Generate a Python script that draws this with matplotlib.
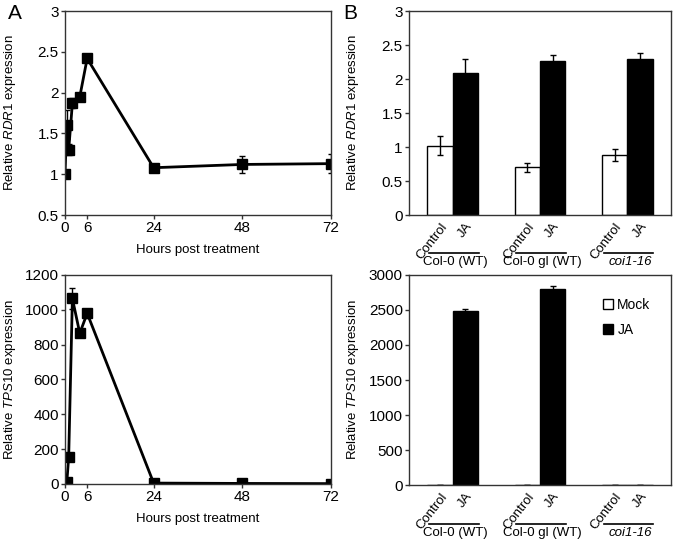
import numpy as np
import matplotlib
matplotlib.use("Agg")
from matplotlib import pyplot as plt
from matplotlib.patches import Patch

plt.rcParams['font.family'] = ['Liberation Sans', 'DejaVu Sans']
plt.rcParams['mathtext.fontset'] = 'custom'
plt.rcParams['mathtext.rm'] = 'Liberation Sans'
plt.rcParams['mathtext.it'] = 'Liberation Sans:italic'
plt.rcParams['font.size'] = 10

# time course data (panel A)
hours = [0, 0.5, 1, 2, 4, 6, 24, 48, 72]
rdr1_time = [1.0, 1.61, 1.30, 1.87, 1.95, 2.42, 1.08, 1.12, 1.13]
rdr1_time_err = [0.0, 0.18, 0.07, 0.06, 0.02, 0.02, 0.03, 0.10, 0.12]
tps10_time = [5, 12, 155, 1065, 865, 980, 5, 3, 2]
tps10_time_err = [0, 3, 10, 60, 10, 25, 2, 1, 1]

# genotype data (panel B)
genotypes = ["Col-0 (WT)", "Col-0 gl (WT)", "coi1-16"]
treat_labels = ["Control", "JA"]
rdr1_mock = [1.02, 0.70, 0.88]
rdr1_mock_err = [0.14, 0.07, 0.09]
rdr1_ja = [2.09, 2.27, 2.30]
rdr1_ja_err = [0.20, 0.09, 0.08]
tps10_mock = [1, 1, 1]
tps10_mock_err = [0, 0, 0]
tps10_ja = [2480, 2800, 5]
tps10_ja_err = [40, 40, 2]

fig = plt.figure(figsize=(6.75, 5.45), dpi=100)

axA1 = fig.add_axes([0.0963, 0.6055, 0.394, 0.374])
axA2 = fig.add_axes([0.0963, 0.112, 0.394, 0.3835])
axB1 = fig.add_axes([0.606, 0.6055, 0.388, 0.374])
axB2 = fig.add_axes([0.606, 0.110, 0.388, 0.3855])

def style(ax):
    for s in ax.spines.values():
        s.set_linewidth(1.0)
        s.set_color('#333333')
    ax.tick_params(direction='out', length=3, width=1.0, pad=1.5,
                   colors='#333333', labelcolor='black', labelsize=11)

for ax, y, e, lim, ticks, lab in [
        (axA1, rdr1_time, rdr1_time_err, (0.5, 3), [0.5, 1, 1.5, 2, 2.5, 3], "Relative $\\mathit{RDR1}$ expression"),
        (axA2, tps10_time, tps10_time_err, (0, 1200), np.arange(0, 1201, 200), "Relative $\\mathit{TPS10}$ expression")]:
    ax.errorbar(hours, y, yerr=e, color='black', lw=2, marker='s', ms=7, capsize=2.5, elinewidth=1)
    ax.set_xlim(0, 72)
    ax.set_ylim(*lim)
    ax.set_yticks(ticks)
    ax.set_yticklabels([f"{t:g}" for t in ticks])
    ax.set_xticks([0, 6, 24, 48, 72])
    ax.set_xlabel("Hours post treatment", labelpad=6, fontsize=9.5)
    ax.set_ylabel(lab, fontsize=9.5)
    ax.yaxis.set_label_coords(-0.177, 0.5)
    style(ax)

x = np.arange(len(genotypes))
w = 0.29
for ax, m, me, j, je, lim, ticks, lab in [
        (axB1, rdr1_mock, rdr1_mock_err, rdr1_ja, rdr1_ja_err, (0, 3), [0, 0.5, 1, 1.5, 2, 2.5, 3], "Relative $\\mathit{RDR1}$ expression"),
        (axB2, tps10_mock, tps10_mock_err, tps10_ja, tps10_ja_err, (0, 3000), np.arange(0, 3001, 500), "Relative $\\mathit{TPS10}$ expression")]:
    ax.bar(x - w / 2, m, w, yerr=me, color='white', edgecolor='black', lw=1,
           capsize=2.5, error_kw=dict(elinewidth=1, ecolor='black'))
    ax.bar(x + w / 2, j, w, yerr=je, color='black', edgecolor='black', lw=1,
           capsize=2.5, error_kw=dict(elinewidth=1, ecolor='black'))
    ax.set_xlim(-0.5, 2.5)
    ax.set_ylim(*lim)
    ax.set_yticks(ticks)
    ax.set_yticklabels([f"{t:g}" for t in ticks])
    ax.set_xticks(np.concatenate([x - w / 2, x + w / 2]))
    ax.set_xticklabels(treat_labels[:1] * 3 + treat_labels[1:] * 3, rotation=52,
                       ha='right', rotation_mode='anchor')
    ax.set_ylabel(lab, fontsize=9.5)
    ax.yaxis.set_label_coords(-0.183, 0.5)
    style(ax)
    ax.tick_params(axis='x', length=0, pad=4, labelsize=9.5)
    tr = ax.get_xaxis_transform()
    for i, g in enumerate(genotypes):
        ax.plot([i - 0.27, i + 0.30], [-0.186, -0.186], color='black', lw=1.2,
                transform=tr, clip_on=False)
        ax.text(i + 0.03, -0.20, g, transform=tr, ha='center', va='top', fontsize=9.5,
                style='italic' if g == "coi1-16" else 'normal')

axB2.legend(handles=[Patch(facecolor='white', edgecolor='black', label='Mock'),
                     Patch(facecolor='black', edgecolor='black', label='JA')],
            loc='upper right', bbox_to_anchor=(0.97, 0.95), frameon=False, fontsize=10,
            handlelength=0.7, handleheight=0.7, handletextpad=0.3, labelspacing=0.8)

fig.text(0.012, 0.965, "A", fontsize=15)
fig.text(0.508, 0.965, "B", fontsize=15)

fig.savefig("out.png", dpi=100)
